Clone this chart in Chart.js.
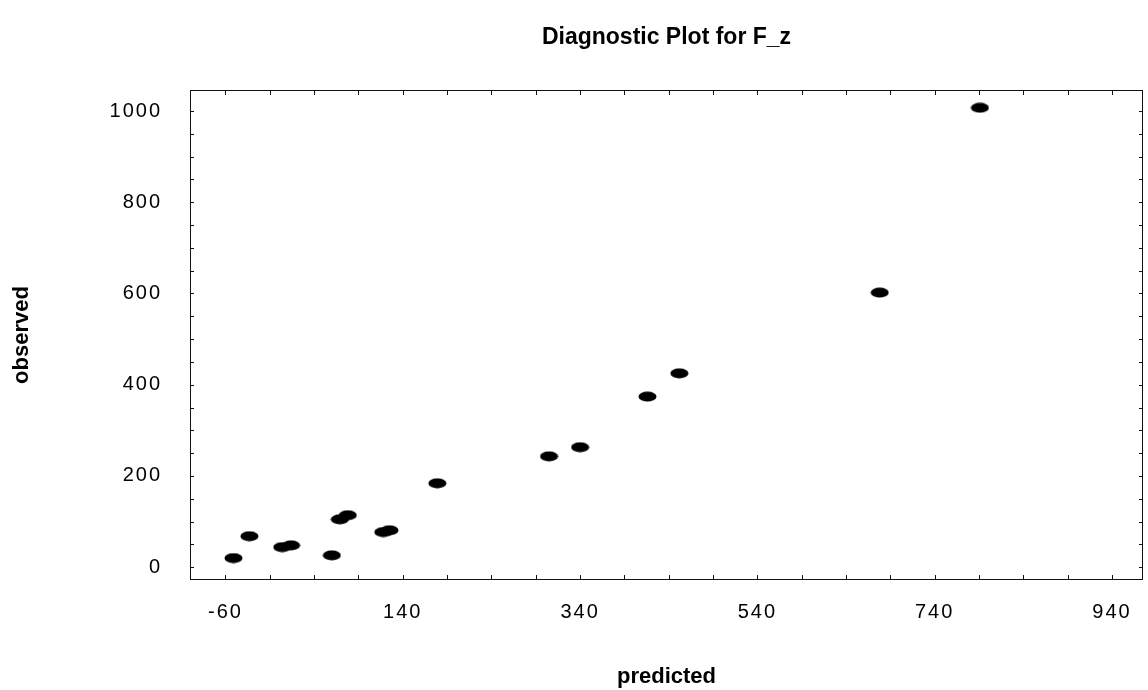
<!DOCTYPE html>
<html>
<head>
<meta charset="utf-8">
<title>Diagnostic Plot for F_z</title>
<script src="https://cdn.jsdelivr.net/npm/chart.js@4.4.1/dist/chart.umd.min.js"></script>
<style>
  body { margin: 0; background: #fff; }
  #wrap { width: 1148px; height: 690px; }
</style>
</head>
<body>
<div id="wrap"><canvas id="myChart" width="1148" height="690"></canvas></div>
<script>
// values
const predicted = [-51, -33, 4, 14, 60, 69, 78, 118, 125, 179, 305, 340, 416, 452, 678, 791];
const observed = [20, 68, 44, 48, 26, 105, 114, 77, 81, 184, 243, 263, 374, 425, 602, 1007];

const xTickLabels = [-60, 140, 340, 540, 740, 940];
const yTickLabels = [0, 200, 400, 600, 800, 1000];
const minorStep = 50;

const chartTitle = "Diagnostic Plot for F_z";
const xTitle = "predicted";
const yTitle = "observed";

const boldFont = "bold 22px 'Liberation Sans', Arial, sans-serif";

// flat black ellipse marker like the scan
var marker = document.createElement("canvas");
marker.width = 19;
marker.height = 11;
var mctx = marker.getContext("2d");
mctx.fillStyle = "#000";
mctx.beginPath();
mctx.ellipse(9.5, 5.5, 9, 5, 0, 0, Math.PI * 2);
mctx.fill();

function stepTicks(scale, start) {
  var ticks = [];
  for (var v = start; v <= scale.max; v += minorStep) {
    if (v >= scale.min) ticks.push({ value: v });
  }
  scale.ticks = ticks;
}

// scan digits are widely spaced (only the tick labels get this)
const spacingPlugin = {
  id: "spacing",
  beforeDraw: function (chart) {
    chart.ctx.letterSpacing = "2px";
  },
  afterDatasetsDraw: function (chart) {
    chart.ctx.letterSpacing = "0px";
  },
};

// box + inward tick marks + titles
const framePlugin = {
  id: "frame",
  afterDraw: function (chart) {
    var ctx = chart.ctx;
    var a = chart.chartArea;
    var xs = chart.scales.x;
    var ys = chart.scales.y;
    var cx = (a.left + a.right) / 2;
    var cy = (a.top + a.bottom) / 2;
    ctx.save();
    ctx.letterSpacing = "0px";
    ctx.strokeStyle = "#111";
    ctx.lineWidth = 1;
    ctx.strokeRect(a.left + 0.5, a.top + 0.5, a.right - a.left - 1, a.bottom - a.top - 1);
    ctx.beginPath();
    xs.ticks.forEach(function (t) {
      var px = Math.round(xs.getPixelForValue(t.value)) + 0.5;
      ctx.moveTo(px, a.bottom);
      ctx.lineTo(px, a.bottom - 5);
      ctx.moveTo(px, a.top);
      ctx.lineTo(px, a.top + 5);
    });
    ys.ticks.forEach(function (t) {
      var py = Math.round(ys.getPixelForValue(t.value)) + 0.5;
      ctx.moveTo(a.left, py);
      ctx.lineTo(a.left + 4, py);
      ctx.moveTo(a.right, py);
      ctx.lineTo(a.right - 4, py);
    });
    ctx.stroke();

    ctx.fillStyle = "#000";
    ctx.textAlign = "center";
    ctx.textBaseline = "middle";
    ctx.font = "bold 23px 'Liberation Sans', Arial, sans-serif";
    ctx.fillText(chartTitle, cx, 38);
    ctx.font = boldFont;
    ctx.fillText(xTitle, cx, 677);
    ctx.translate(22, cy);
    ctx.rotate(-Math.PI / 2);
    ctx.fillText(yTitle, 0, 0);
    ctx.restore();
  },
};

const data = {
  datasets: [
    {
      label: "F_z",
      data: predicted.map(function (p, i) {
        return { x: p, y: observed[i] };
      }),
      pointStyle: marker,
      backgroundColor: "#000",
      borderColor: "#000",
    },
  ],
};

const config = {
  type: "scatter",
  data: data,
  options: {
    responsive: false,
    animation: false,
    layout: { padding: { top: 90, right: 1, left: 0, bottom: 0 } },
    plugins: {
      legend: { display: false },
      tooltip: { enabled: false },
    },
    scales: {
      x: {
        type: "linear",
        min: -100,
        max: 975,
        afterBuildTicks: function (scale) {
          stepTicks(scale, xTickLabels[0]);
        },
        afterFit: function (scale) {
          scale.height = 110;
        },
        grid: { display: false },
        border: { display: false },
        ticks: {
          padding: 12,
          color: "#000",
          autoSkip: false,
          maxRotation: 0,
          font: { family: "'Liberation Sans', Arial, sans-serif", size: 20 },
          callback: function (v) {
            return xTickLabels.indexOf(v) >= 0 ? String(v) : "";
          },
        },
        title: { display: false, text: xTitle },
      },
      y: {
        type: "linear",
        min: -28,
        max: 1046,
        afterBuildTicks: function (scale) {
          stepTicks(scale, yTickLabels[0]);
        },
        afterFit: function (scale) {
          scale.width = 190;
        },
        grid: { display: false },
        border: { display: false },
        ticks: {
          padding: 20,
          color: "#000",
          autoSkip: false,
          font: { family: "'Liberation Sans', Arial, sans-serif", size: 20 },
          callback: function (v) {
            return yTickLabels.indexOf(v) >= 0 ? String(v) : "";
          },
        },
        title: { display: false, text: yTitle },
      },
    },
  },
  plugins: [spacingPlugin, framePlugin],
};

const myChart = new Chart(document.getElementById("myChart"), config);
</script>
</body>
</html>
